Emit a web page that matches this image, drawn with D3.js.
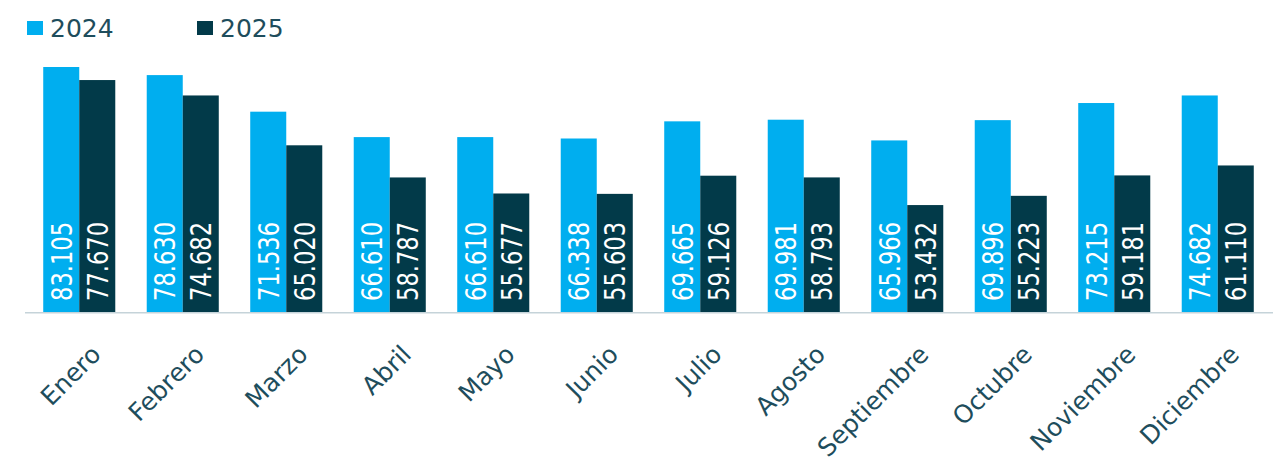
<!DOCTYPE html>
<html>
<head>
<meta charset="utf-8">
<script src="https://cdn.jsdelivr.net/npm/d3@7"></script>
<style>
  body { margin: 0; background: #fff; }
  svg text { font-family: "DejaVu Sans", sans-serif; }
</style>
</head>
<body>
<div id="GraphHolder"></div>
<script>
// chart data
var months = ["Enero", "Febrero", "Marzo", "Abril", "Mayo", "Junio", "Julio",
              "Agosto", "Septiembre", "Octubre", "Noviembre", "Diciembre"];
var years = ["2024", "2025"];
var values2024 = [83.105, 78.630, 71.536, 66.610, 66.610, 66.338, 69.665,
                  69.981, 65.966, 69.896, 73.215, 74.682];
var values2025 = [77.670, 74.682, 65.020, 58.787, 55.677, 55.603, 59.126,
                  58.793, 53.432, 55.223, 59.181, 61.110];
var colors = ["#00aeef", "#023a49"];
var textColor = "#1e4d5c";

var width = 1278, height = 462;
var baseY = 312, topY = 67;

var svg = d3.select("#GraphHolder").append("svg")
    .attr("width", width)
    .attr("height", height);

// rows: one per month with both years
var data = months.map(function(m, i) {
    return {month: m, vals: [{year: "2024", v: values2024[i]}, {year: "2025", v: values2025[i]}]};
});

// scales
var x = d3.scaleBand()
    .domain(months)
    .range([27.5, 1269.5])
    .paddingInner(0.304)
    .paddingOuter(0.152);
var x1 = d3.scaleBand()
    .domain(years)
    .range([0, x.bandwidth()]);
var y = d3.scaleLinear()
    .domain([32.7, 80.2])
    .range([baseY, topY])
    .clamp(true);
var color = d3.scaleOrdinal().domain(years).range(colors);
var fmt = d3.format(".3f");

// bars
var groups = svg.selectAll(".grp")
    .data(data)
    .enter().append("g")
    .attr("class", "grp")
    .attr("transform", function(d) { return "translate(" + x(d.month) + ",0)"; });

groups.selectAll(".bar")
    .data(function(d) { return d.vals; })
    .enter().append("rect")
    .attr("class", "bar")
    .attr("x", function(d) { return x1(d.year); })
    .attr("width", x1.bandwidth())
    .attr("y", function(d) { return y(d.v); })
    .attr("height", function(d) { return baseY - y(d.v); })
    .attr("fill", function(d) { return color(d.year); });

// value labels inside bars, rotated
groups.selectAll(".val")
    .data(function(d) { return d.vals; })
    .enter().append("text")
    .attr("class", "val")
    .attr("transform", function(d) {
        return "translate(" + (x1(d.year) + x1.bandwidth() / 2) + "," + (baseY - 11) + ") rotate(-90) scale(0.78,1)";
    })
    .attr("dy", "0.36em")
    .style("font-size", "29px")
    .style("fill", "#fff")
    .text(function(d) { return fmt(d.v); });

// baseline
svg.append("line")
    .attr("x1", 25).attr("x2", 1273)
    .attr("y1", baseY + 0.75).attr("y2", baseY + 0.75)
    .attr("stroke", "#c5d3d9")
    .attr("stroke-width", 1.5);

// month labels
var xAxis = d3.axisBottom(x).tickSize(0).tickPadding(0);
var axisG = svg.append("g")
    .attr("class", "xaxis")
    .attr("transform", "translate(0," + baseY + ")")
    .call(xAxis);
axisG.select(".domain").remove();
axisG.selectAll("text")
    .attr("y", 0)
    .attr("dy", 0)
    .attr("transform", "translate(23,44) rotate(-45)")
    .style("text-anchor", "end")
    .style("font-size", "25px")
    .style("font-family", "DejaVu Sans, sans-serif")
    .style("fill", textColor);

// legend
var legend = svg.selectAll(".legend")
    .data(years)
    .enter().append("g")
    .attr("class", "legend")
    .attr("transform", function(d, i) { return "translate(" + (27 + i * 170) + ",0)"; });
legend.append("rect")
    .attr("x", 0).attr("y", 21)
    .attr("width", 16).attr("height", 14)
    .attr("fill", function(d) { return color(d); });
legend.append("text")
    .attr("x", 23).attr("y", 37)
    .style("font-size", "25px")
    .style("fill", textColor)
    .text(function(d) { return d; });
</script>
</body>
</html>
